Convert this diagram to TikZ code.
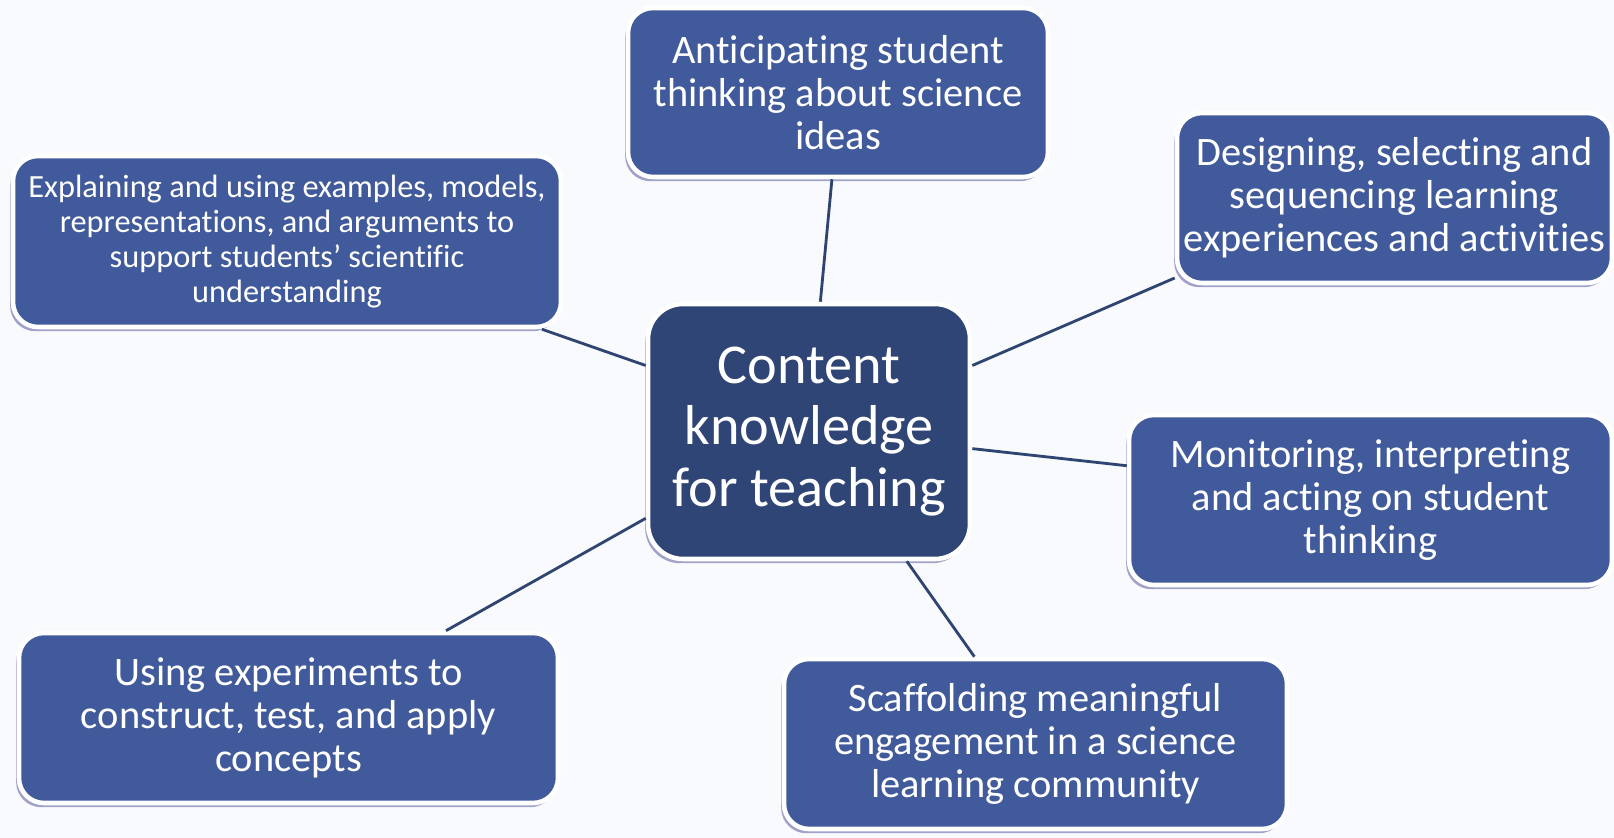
\documentclass[tikz,border=0pt]{standalone}
\usepackage{fontspec}
\setmainfont{Carlito}[RawFeature=-liga]
\usetikzlibrary{shadows}

\definecolor{boxblue}{RGB}{65,90,155}
\definecolor{coreblue}{RGB}{47,69,117}
\definecolor{linkblue}{RGB}{47,68,112}
\definecolor{paper}{RGB}{248,250,253}

\begin{document}
\begin{tikzpicture}[
			every node/.style = {text=white, align=center},
			topic/.style = {draw=white, line width=1.3pt, fill=boxblue, rounded corners=0.25cm,
				inner sep=0pt, drop shadow={shadow xshift=-0.8pt, shadow yshift=-1.2pt, opacity=0.35, fill=blue!40!black},
				font=\fontsize{11.5}{12.3}\selectfont},
			core/.style = {topic, fill=coreblue, rounded corners=0.35cm, font=\fontsize{16}{17.5}\selectfont},
			link/.style = {draw=linkblue, line width=0.8pt}
			]

			% page
			\fill[paper] (0,0) rectangle (16.14,8.38);
			\useasboundingbox (0,0) rectangle (16.14,8.38);

			\node[core, minimum width=3.22cm, minimum height=2.55cm] (core) at (8.09,4.065)
				{Content\\knowledge\\for teaching};

			\node[topic, minimum width=4.20cm, minimum height=1.69cm] (antic) at (8.38,7.455)
				{Anticipating student\\thinking about science\\ideas};
			\node[topic, minimum width=4.35cm, minimum height=1.70cm] (design) at (13.945,6.40)
				{Designing, selecting and\\sequencing learning\\experiences and activities};
			\node[topic, minimum width=5.48cm, minimum height=1.71cm, font=\fontsize{9.2}{10}\selectfont] (explain) at (2.87,5.965)
				{Explaining and using examples, models,\\representations, and arguments to\\support students’ scientific\\understanding};
			\node[topic, minimum width=4.83cm, minimum height=1.70cm] (monitor) at (13.705,3.38)
				{Monitoring, interpreting\\and acting on student\\thinking};
			\node[topic, minimum width=5.39cm, minimum height=1.70cm] (using) at (2.885,1.20)
				{Using experiments to\\construct, test, and apply\\concepts};
			\node[topic, minimum width=5.03cm, minimum height=1.70cm] (scaff) at (10.355,0.94)
				{Scaffolding meaningful\\engagement in a science\\learning community};

			% spokes
			\draw[link] (core.85) -- (antic.-94);
			\draw[link] (core.22) -- (design.200);
			\draw[link] (core.158) -- (explain.-19);
			\draw[link] (core.-6) -- (monitor.172);
			\draw[link] (core.208) -- (using.29);
			\draw[link] (core.-53) -- (scaff.125);

		\end{tikzpicture}
\end{document}
